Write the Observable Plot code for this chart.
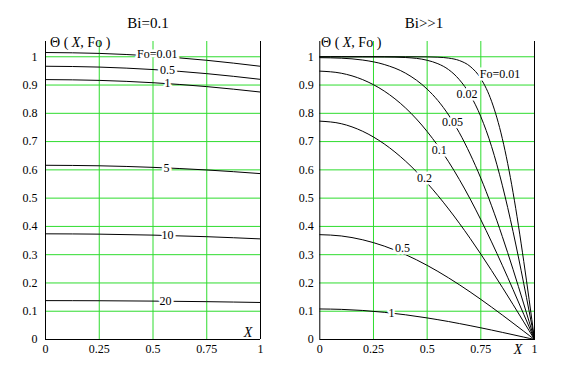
<!DOCTYPE html>
<html><head><meta charset="utf-8">
<script src="https://cdn.jsdelivr.net/npm/d3@7"></script>
<script src="https://cdn.jsdelivr.net/npm/@observablehq/plot@0.6"></script>
<style>
body{margin:0;background:#fff;}
#wrap{position:relative;width:573px;height:371px;overflow:hidden;}
#wrap > svg{position:absolute;top:0;}
#wrap svg, #wrap svg text{font-family:"Liberation Serif","Times New Roman","Liberation Sans",Arial,sans-serif !important;}
</style></head><body><div id="wrap"></div>
<script>
// ---- data: left panel, Bi = 0.1 ----
const leftX = [0, 0.25, 0.5, 0.75, 1];
const leftFo = ["0.01", "0.5", "1", "5", "10", "20"];
const leftTheta = [
  [1.0150, 1.0119, 1.0027, 0.9875, 0.9663],
  [0.9665, 0.9635, 0.9548, 0.9403, 0.9201],
  [0.9193, 0.9165, 0.9082, 0.8944, 0.8752],
  [0.6162, 0.6144, 0.6088, 0.5996, 0.5867],
  [0.3738, 0.3726, 0.3692, 0.3636, 0.3558],
  [0.1375, 0.1371, 0.1358, 0.1338, 0.1309]
];
const leftLabelText = ["Fo=0.01", "0.5", "1", "5", "10", "20"];
const leftLabelX = [0.52, 0.567, 0.567, 0.563, 0.567, 0.558];
const leftLabelY = [1.008, 0.954, 0.906, 0.605, 0.368, 0.137];

// ---- data: right panel, Bi >> 1 ----
const rightX = [0, 0.1, 0.2, 0.3, 0.4, 0.5, 0.55, 0.6, 0.65, 0.7, 0.75, 0.8, 0.85, 0.9, 0.95, 1];
const rightFo = ["0.01", "0.02", "0.05", "0.1", "0.2", "0.5", "1"];
const rightTheta = [
  [1, 1, 1, 1, 1, 0.9996, 0.9985, 0.9953, 0.9867, 0.9661, 0.9229, 0.8427, 0.7112, 0.5205, 0.2763, 0],
  [1, 1, 0.9999, 0.9995, 0.9973, 0.9876, 0.9755, 0.9545, 0.9190, 0.8655, 0.7881, 0.6827, 0.5458, 0.3821, 0.1974, 0],
  [0.9968, 0.9950, 0.9884, 0.9727, 0.9417, 0.8856, 0.8452, 0.7940, 0.7313, 0.6563, 0.5705, 0.4729, 0.3645, 0.2482, 0.1257, 0],
  [0.9492, 0.9418, 0.9190, 0.8788, 0.8185, 0.7356, 0.6851, 0.6285, 0.5659, 0.4975, 0.4237, 0.3452, 0.2626, 0.1769, 0.0890, 0],
  [0.7723, 0.7633, 0.7363, 0.6918, 0.6304, 0.5532, 0.5091, 0.4616, 0.4111, 0.3578, 0.3021, 0.2442, 0.1847, 0.1239, 0.0622, 0],
  [0.3708, 0.3662, 0.3526, 0.3304, 0.3000, 0.2622, 0.2408, 0.2179, 0.1937, 0.1683, 0.1419, 0.1146, 0.0866, 0.0580, 0.0291, 0],
  [0.1080, 0.1066, 0.1027, 0.0962, 0.0873, 0.0763, 0.0701, 0.0635, 0.0564, 0.0490, 0.0413, 0.0334, 0.0252, 0.0169, 0.0085, 0]
];
const rightLabelText = ["Fo=0.01", "0.02", "0.05", "0.1", "0.2", "0.5", "1"];
const rightLabelX = [0.839, 0.686, 0.618, 0.556, 0.488, 0.385, 0.334];
const rightLabelY = [0.940, 0.869, 0.769, 0.669, 0.572, 0.323, 0.093];

// ---- ticks & titles ----
const xTicks = [0, 0.25, 0.5, 0.75, 1];
const yTicks = [0, 0.1, 0.2, 0.3, 0.4, 0.5, 0.6, 0.7, 0.8, 0.9, 1];
const titles = ["Bi=0.1", "Bi>>1"];

const GREEN = "#2edc2e";
const FONT = "\"Liberation Serif\", \"Times New Roman\", \"Liberation Sans\", Arial, sans-serif";

function rows(xv, fos, th) {
  const out = [];
  fos.forEach((fo, i) => xv.forEach((x, j) => out.push({fo, x, t: th[i][j]})));
  return out;
}
function labels(txt, lx, ly) {
  return txt.map((s, i) => ({s, x: lx[i], y: ly[i]}));
}

function panel({left, width, mLeft, mRight, data, labs, xTickList, tickPad}) {
  const svg = Plot.plot({
    width, height: 371,
    marginLeft: mLeft, marginRight: mRight, marginTop: 41, marginBottom: 32,
    x: {domain: [0, 1], ticks: xTickList, tickFormat: d => String(d), tickSize: 0, tickPadding: 5, label: null},
    y: {domain: [0, 1.054], ticks: yTicks, tickFormat: d => String(d), tickSize: 0, tickPadding: tickPad, label: null},
    style: {fontFamily: FONT, fontSize: "12px", color: "#000", background: "transparent", overflow: "visible"},
    marks: [
      Plot.gridX([0.25, 0.5, 0.75], {stroke: GREEN, strokeOpacity: 1, strokeWidth: 1}),
      Plot.gridY(yTicks.slice(1), {stroke: GREEN, strokeOpacity: 1, strokeWidth: 1}),
      Plot.ruleX([0, 1], {stroke: "#000", strokeWidth: 1}),
      Plot.ruleY([0], {stroke: "#000", strokeWidth: 1}),
      Plot.line(data, {x: "x", y: "t", z: "fo", stroke: "#000", strokeWidth: 1, curve: "monotone-x"}),
      Plot.text(labs, {x: "x", y: "y", text: "s", fill: "#000", stroke: "#fff", strokeWidth: 5, fontSize: 12})
    ]
  });
  svg.style.left = left + "px";
  return svg;
}

const wrap = document.getElementById("wrap");
const s1 = panel({left: 0, width: 290, mLeft: 45, mRight: 30,
  data: rows(leftX, leftFo, leftTheta), labs: labels(leftLabelText, leftLabelX, leftLabelY),
  xTickList: xTicks, tickPad: 8});
const s2 = panel({left: 280, width: 293, mLeft: 39.3, mRight: 39,
  data: rows(rightX, rightFo, rightTheta), labs: labels(rightLabelText, rightLabelX, rightLabelY),
  xTickList: xTicks, tickPad: 6});
wrap.appendChild(s1);
wrap.appendChild(s2);

function addText(svg, x, y, parts, size, anchor) {
  const t = d3.select(svg).append("text").attr("x", x).attr("y", y)
    .style("font-family", FONT).attr("font-size", size).attr("fill", "#000")
    .attr("text-anchor", anchor || "start");
  parts.forEach(p => t.append("tspan").attr("font-style", p[1] ? "italic" : "normal").text(p[0]));
  return t;
}
// titles
addText(s1, 148, 28, [[titles[0], false]], 15, "middle");
addText(s2, 424 - 280, 28, [[titles[1], false]], 15, "middle");
// function labels
const thetaParts = [["\u0398", false], [" ( ", false], ["X", true], [", Fo", false], [" )", false]];
addText(s1, 50, 47, thetaParts, 14);
addText(s2, 321 - 280, 47, thetaParts, 14);
// X axis name
addText(s1, 248, 337, [["X", true]], 14, "middle");
addText(s2, 518 - 280, 354, [["X", true]], 14, "middle");
</script></body></html>
